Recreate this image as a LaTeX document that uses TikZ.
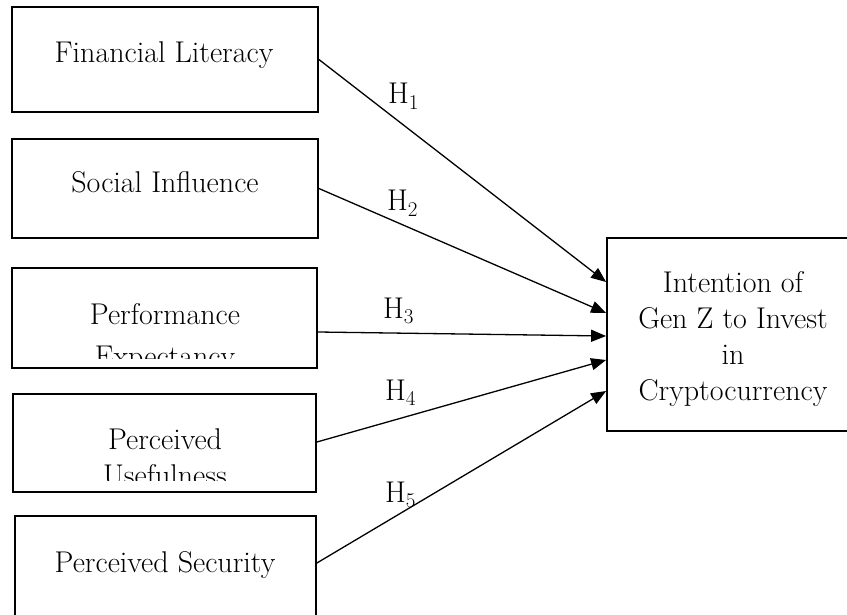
\documentclass[tikz,border=0pt]{standalone}
\usetikzlibrary{arrows.meta}
\begin{document}
\begin{tikzpicture}[x=1pt,y=-1pt,
  box/.style={draw,line width=1.8pt,inner sep=0pt},
  lbl/.style={font=\fontsize{30}{36}\selectfont, inner sep=0pt, anchor=base},
  hlbl/.style={font=\fontsize{30}{36}\selectfont, inner sep=0pt, anchor=base west},
  conn/.style={line width=1.3pt,-{Triangle[length=15pt,width=12pt]}}]
\useasboundingbox (0,0) rectangle (847,615);
% boxes
\node[box,minimum width=306pt,minimum height=105pt] (b1) at (165,59.5) {};
\node[box,minimum width=306pt,minimum height=99pt] (b2) at (165,188.5) {};
\node[box,minimum width=305pt,minimum height=100pt] (b3) at (164.5,318) {};
\node[box,minimum width=303pt,minimum height=98pt] (b4) at (164.5,443) {};
\node[box,minimum width=301pt,minimum height=124pt] (b5) at (165.5,578) {};
\node[box,minimum width=243pt,minimum height=193pt] (tg) at (728.5,334.5) {};
% texts
\node[lbl] (t1) at (164,63) {Financial Literacy};
\node[lbl] (t2) at (165,193) {Social Influence};
\begin{scope}
\clip (b3.north west) rectangle ([yshift=10pt]b3.south east);
\node[lbl] (t3a) at (165,324) {Performance};
\node[lbl] (t3b) at (165,366) {Expectancy};
\end{scope}
\begin{scope}
\clip (b4.north west) rectangle ([yshift=12pt]b4.south east);
\node[lbl] (t4a) at (165,449) {Perceived};
\node[lbl] (t4b) at (165,485) {Usefulness};
\end{scope}
\node[lbl] (t5) at (165,572) {Perceived Security};
\node[lbl] (g1) at (733,292) {Intention of};
\node[lbl] (g2) at (733,328) {Gen Z to Invest};
\node[lbl] (g3) at (733,364) {in};
\node[lbl] (g4) at (733,400) {Cryptocurrency};
% connectors
\draw[conn] (b1.east) -- ([yshift=52.5pt]tg.west);
\draw[conn] (b2.east) -- ([yshift=21.5pt]tg.west);
\draw[conn] ([yshift=-14pt]b3.east) -- ([yshift=-1.5pt]tg.west);
\draw[conn] ([yshift=1pt]b4.east) -- ([yshift=-25.5pt]tg.west);
\draw[conn] ([yshift=15pt]b5.east) -- ([yshift=-56.5pt]tg.west);
% labels
\node[hlbl] (h1) at (388,104) {H\textsubscript{1}};
\node[hlbl] (h2) at (387,211) {H\textsubscript{2}};
\node[hlbl] (h3) at (383,318) {H\textsubscript{3}};
\node[hlbl] (h4) at (385,400) {H\textsubscript{4}};
\node[hlbl] (h5) at (385,502) {H\textsubscript{5}};
\end{tikzpicture}
\end{document}
